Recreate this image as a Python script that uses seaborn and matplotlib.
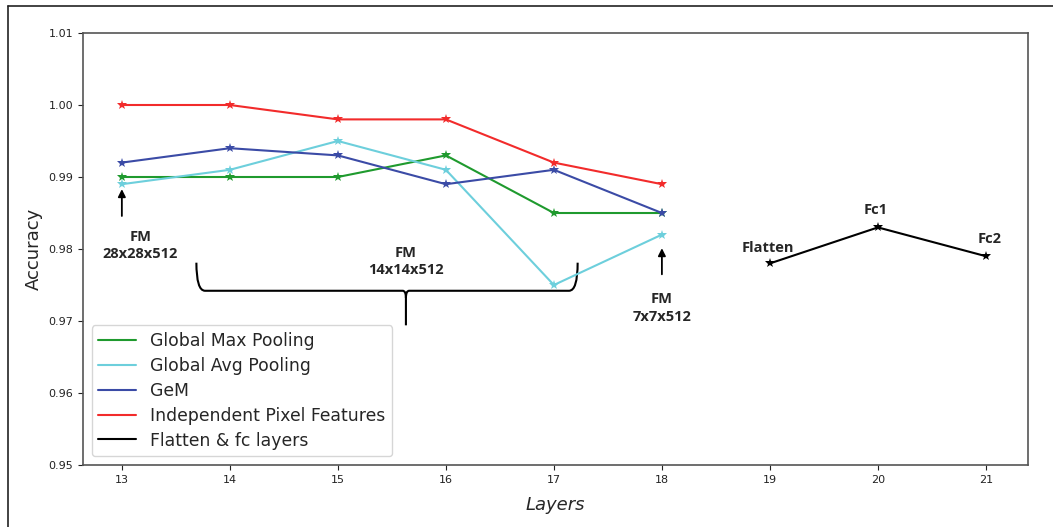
import numpy as np
import pandas as pd
import seaborn as sns
import matplotlib.pyplot as plt
from matplotlib.path import Path
from matplotlib.patches import PathPatch
from matplotlib.lines import Line2D

# Data
layers = [13, 14, 15, 16, 17, 18]
max_pool = [0.990, 0.990, 0.990, 0.993, 0.985, 0.985]
avg_pool = [0.989, 0.991, 0.995, 0.991, 0.975, 0.982]
gem = [0.992, 0.994, 0.993, 0.989, 0.991, 0.985]
pixel_feat = [1.000, 1.000, 0.998, 0.998, 0.992, 0.989]

fc_layers = [19, 20, 21]
fc_acc = [0.978, 0.983, 0.979]
fc_names = ['Flatten', 'Fc1', 'Fc2']

series_names = ['Global Max Pooling', 'Global Avg Pooling', 'GeM',
                'Independent Pixel Features']
series_colors = ['#1f9a2e', '#6dcfdc', '#3b4ba6', '#f22b2b']

df = pd.DataFrame({
    'Layers': layers * 4,
    'Accuracy': max_pool + avg_pool + gem + pixel_feat,
    'Method': [n for n in series_names for _ in layers],
})
df_fc = pd.DataFrame({'Layers': fc_layers, 'Accuracy': fc_acc,
                      'Method': 'Flatten & fc layers'})

sns.set_style('ticks')
plt.rcParams['font.family'] = ['DejaVu Sans']

fig = plt.figure(figsize=(10.53, 5.27), dpi=100)
ax = fig.add_axes([0.0788, 0.1176, 0.8975, 0.8198])

sns.lineplot(data=df, x='Layers', y='Accuracy', hue='Method',
             palette=dict(zip(series_names, series_colors)),
             marker='*', markersize=7.5, markeredgewidth=0, linewidth=1.5, ax=ax)
sns.lineplot(data=df_fc, x='Layers', y='Accuracy', hue='Method',
             palette={'Flatten & fc layers': 'black'},
             marker='*', markersize=7.5, markeredgewidth=0, linewidth=1.5, ax=ax)

ax.set_ylim(0.95, 1.01)
ax.set_xlim(12.64, 21.39)
ax.set_yticks(np.arange(0.95, 1.0101, 0.01))
ax.set_yticklabels(['0.95', '0.96', '0.97', '0.98', '0.99', '1.00', '1.01'])
ax.set_xticks(range(13, 22))
ax.tick_params(labelsize=8, colors='#222222', length=3.5)
for s in ax.spines.values():
    s.set_color('#555555')
    s.set_linewidth(1.2)
ax.set_xlabel('Layers', fontsize=13, style='italic', labelpad=8)
ax.set_ylabel('Accuracy', fontsize=13)

# legend shows plain lines only
handles = [Line2D([], [], color=c, lw=1.5) for c in series_colors + ['black']]
labels = series_names + ['Flatten & fc layers']
leg = ax.legend(handles, labels, loc='lower left', fontsize=12.4, handlelength=2.2,
                borderaxespad=0.5, labelspacing=0.4, frameon=True)
leg.get_frame().set_edgecolor('#cccccc')

bold = dict(fontsize=10.5, fontweight='bold', family='Open Sans', ha='center')

# annotations for feature maps
ax.annotate('', xy=(13, 0.9887), xytext=(13, 0.9842),
            arrowprops=dict(arrowstyle='-|>', color='black', lw=1.3, mutation_scale=11))
ax.text(13.17, 0.9805, 'FM\n28x28x512', va='center', linespacing=1.3, **bold)
ax.annotate('', xy=(18, 0.9805), xytext=(18, 0.9761),
            arrowprops=dict(arrowstyle='-|>', color='black', lw=1.3, mutation_scale=11))
ax.text(18, 0.9718, 'FM\n7x7x512', va='center', linespacing=1.3, **bold)
ax.text(15.63, 0.9783, 'FM\n14x14x512', va='center', linespacing=1.3, **bold)

# curly brace under the 14x14 layers
xl, xr, xc = 13.69, 17.22, 15.63
yt, yb, yp = 0.9781, 0.9742, 0.9694
verts = [(xl, yt), (xl, yb), (xl + 0.08, yb),
         (xc - 0.03, yb), (xc, yb), (xc, yb - 0.001), (xc, yp),
         (xc, yb - 0.001), (xc, yb), (xc + 0.03, yb),
         (xr - 0.08, yb), (xr, yb), (xr, yt)]
codes = [Path.MOVETO, Path.CURVE3, Path.CURVE3,
         Path.LINETO, Path.CURVE3, Path.CURVE3, Path.LINETO,
         Path.MOVETO, Path.CURVE3, Path.CURVE3,
         Path.LINETO, Path.CURVE3, Path.CURVE3]
ax.add_patch(PathPatch(Path(verts, codes), fill=False, lw=1.5, color='black'))

# labels of the fc layers
label_dx = [-0.02, -0.02, 0.03]
label_dy = [0.0012, 0.0015, 0.0014]
for x, y, name, dx, dy in zip(fc_layers, fc_acc, fc_names, label_dx, label_dy):
    ax.text(x + dx, y + dy, name, va='bottom', **bold)

# top and left edge of the cropped frame
fig.add_artist(Line2D([0.0076, 1.0], [0.989, 0.989], transform=fig.transFigure,
                      color='#222222', lw=1.2))
fig.add_artist(Line2D([0.0076, 0.0076], [0.0, 0.989], transform=fig.transFigure,
                      color='#222222', lw=1.2))

fig.savefig('out.png', dpi=100)
